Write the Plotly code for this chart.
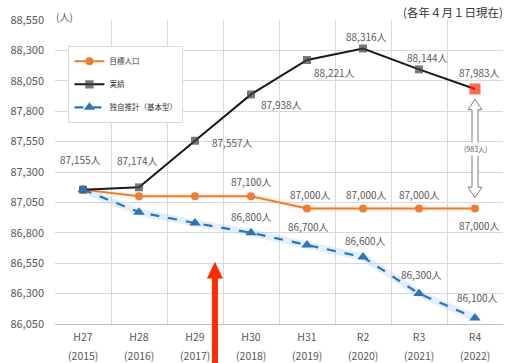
import plotly.graph_objects as go

# ---- data ----
categories = ["H27", "H28", "H29", "H30", "H31", "R2", "R3", "R4"]
years = ["(2015)", "(2016)", "(2017)", "(2018)", "(2019)", "(2020)", "(2021)", "(2022)"]
target = [87155, 87100, 87100, 87100, 87000, 87000, 87000, 87000]
actual = [87155, 87174, 87557, 87938, 88221, 88316, 88144, 87983]
estimate = [87155, 86970, 86880, 86800, 86700, 86600, 86300, 86100]
series_names = ["目標人口", "実績", "独自推計（基本型）"]
gap_label = "(983人)"
unit_label = "(人)"
date_note = "(各年４月１日現在)"
y_ticks = [86050, 86300, 86550, 86800, 87050, 87300, 87550, 87800, 88050, 88300, 88550]

# label placement (which points get a label and pixel offsets)
actual_lbl = [(-3, 30), (-2, 27), (37, -2), (30, -10), (27, -12), (3, 12), (8, 12), (4, 16)]
target_lbl = [None, None, None, (0, 15), (3, 14), (3, 14), (0, 14), (4, -17)]
estimate_lbl = [None, None, None, (0, 16), (1, 18), (2, 17), (2, 19), (2, 20)]

ORANGE = "#ED7D31"
BLACK = "#1a1a1a"
BLUE = "#2E75B6"
GREY_TXT = "#595959"
FONT = "Noto Sans CJK JP"

fig = go.Figure()

# soft glow under the lines
fig.add_trace(go.Scatter(x=categories, y=estimate, mode="lines", showlegend=False, hoverinfo="skip",
                         line=dict(color="rgba(170,210,245,0.35)", width=7)))
fig.add_trace(go.Scatter(x=categories, y=target, mode="lines", showlegend=False, hoverinfo="skip",
                         line=dict(color="rgba(250,210,175,0.3)", width=5)))

fig.add_trace(go.Scatter(x=categories, y=target, name=series_names[0], mode="lines+markers",
                         line=dict(color=ORANGE, width=2),
                         marker=dict(symbol="circle", size=8, color=ORANGE),
                         legendgroup="a"))
marker_colors = ["#404040"] * (len(actual) - 1) + ["#FF2A00"]
marker_sizes = [8] * (len(actual) - 1) + [11]
fig.add_trace(go.Scatter(x=categories, y=actual, name=series_names[1], mode="lines+markers",
                         line=dict(color=BLACK, width=2),
                         marker=dict(symbol="square", size=marker_sizes, color=marker_colors,
                                     line=dict(width=0)),
                         legendgroup="b"))
fig.add_trace(go.Scatter(x=categories, y=estimate, name=series_names[2], mode="lines+markers",
                         line=dict(color=BLUE, width=2.2, dash="dash"),
                         marker=dict(symbol="triangle-up", size=10, color=BLUE),
                         legendgroup="c"))

annotations = []


def add_labels(values, offsets):
    for cat, v, off in zip(categories, values, offsets):
        if off is None:
            continue
        annotations.append(dict(x=cat, y=v, xref="x", yref="y", text=f"{v:,}人",
                                showarrow=False, xshift=off[0], yshift=off[1],
                                font=dict(size=10, color=GREY_TXT, family=FONT)))


add_labels(actual, actual_lbl)
add_labels(target, target_lbl)
add_labels(estimate, estimate_lbl)

# year row under the category labels
for cat, yr in zip(categories, years):
    annotations.append(dict(x=cat, y=0, xref="x", yref="paper", text=yr, showarrow=False,
                            yanchor="top", yshift=-22, font=dict(size=10.5, color=GREY_TXT, family=FONT)))

annotations.append(dict(x=0, y=1, xref="paper", yref="paper", text=unit_label, showarrow=False,
                        xanchor="left", yanchor="bottom", xshift=-1, yshift=-6,
                        font=dict(size=10, color=GREY_TXT, family=FONT)))
annotations.append(dict(x=1, y=1, xref="paper", yref="paper", text=date_note, showarrow=False,
                        xanchor="right", yanchor="bottom", xshift=2, yshift=-2,
                        font=dict(size=11.5, color="#333333", family=FONT)))

# hollow double arrow between actual and target in the last year
top = actual[-1] - 85
bot = target[-1] + 90
head = 85
path = (f"M 0,{top} L 7,{top - head} L 3,{top - head} L 3,{bot + head} L 7,{bot + head} "
        f"L 0,{bot} L -7,{bot + head} L -3,{bot + head} L -3,{top - head} L -7,{top - head} Z")
shapes = [dict(type="path", xref="x", yref="y", xsizemode="pixel", xanchor=7, path=path,
               fillcolor="white", line=dict(color="#7f7f7f", width=1))]
annotations.append(dict(x=categories[-1], y=(actual[-1] + target[-1]) / 2, xref="x", yref="y",
                        text=gap_label, showarrow=False, bgcolor="white",
                        font=dict(size=7, color=GREY_TXT, family=FONT)))

# big red arrow (decoration)
ax = 0.357
shapes.append(dict(type="path", xref="paper", yref="paper",
                   path=(f"M {ax - 0.0067},-0.13 L {ax + 0.0067},-0.13 L {ax + 0.0067},0.15 "
                         f"L {ax + 0.018},0.15 L {ax},0.205 L {ax - 0.018},0.15 L {ax - 0.0067},0.15 Z"),
                   fillcolor="#FF2A00", line=dict(width=0), layer="above"))

fig.update_layout(
    width=506, height=363,
    margin=dict(l=55, r=3, t=20, b=39),
    paper_bgcolor="white", plot_bgcolor="white",
    font=dict(family=FONT, color=GREY_TXT),
    showlegend=True,
    legend=dict(x=0.03, y=0.915, xanchor="left", yanchor="top",
                bgcolor="white", bordercolor="#d9d9d9", borderwidth=1,
                font=dict(size=7.5, color="#333333", family=FONT),
                traceorder="grouped", tracegroupgap=4, itemwidth=30),
    xaxis=dict(type="category", tickson="boundaries", showgrid=True, gridcolor="#d9d9d9",
               gridwidth=1, ticks="", showline=True, linecolor="#bfbfbf",
               ticklabelstandoff=3,
               tickfont=dict(size=10.5, color=GREY_TXT, family=FONT),
               range=[-0.5, 7.5], fixedrange=True),
    yaxis=dict(range=[86050, 88550], tickvals=y_ticks, tickformat=",", showgrid=True,
               gridcolor="#d9d9d9", zeroline=False, ticks="", showline=False,
               ticklabelstandoff=10,
               tickfont=dict(size=11, color=GREY_TXT, family=FONT)),
    annotations=annotations,
    shapes=shapes,
)

fig.write_html("out.html")
